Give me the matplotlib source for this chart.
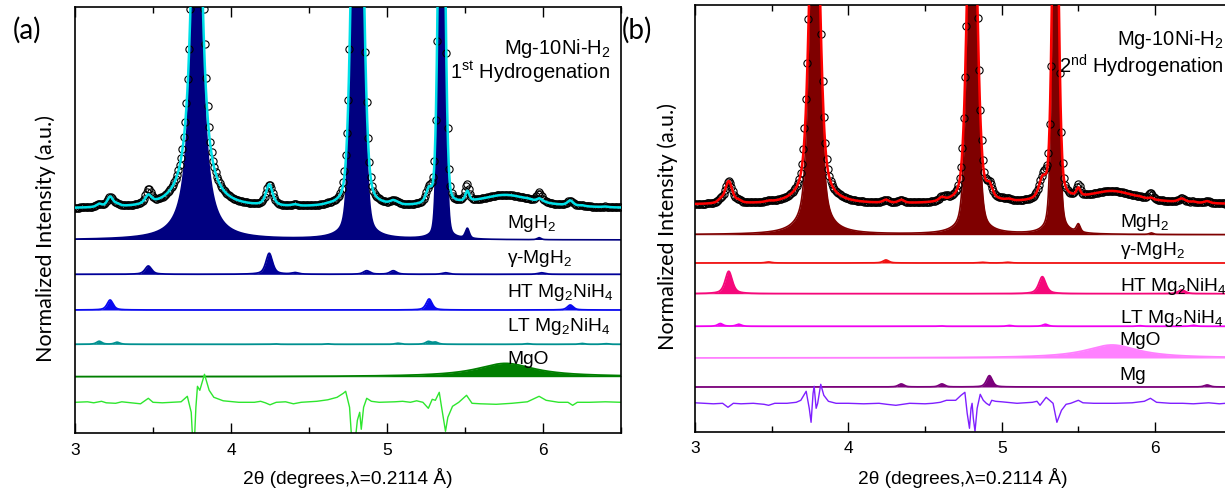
import numpy as np
import matplotlib.pyplot as plt
from matplotlib.ticker import MultipleLocator

plt.rcParams['font.family'] = ['Liberation Sans', 'DejaVu Sans']
plt.rcParams['mathtext.fontset'] = 'custom'
plt.rcParams['mathtext.rm'] = 'Liberation Sans'
plt.rcParams['mathtext.it'] = 'Liberation Sans:italic'

# ---- panel (a): 1st hydrogenation, peaks (2theta, height, fwhm, eta) ----
a_mgh2_pos = [3.78, 4.81, 5.35, 5.515, 5.975]
a_mgh2_h = [469, 568, 493, 10, 2]
a_mgh2_w = [0.069, 0.072, 0.045, 0.03, 0.03]
a_mgh2_eta = [1.0, 0.22, 0.15, 0.5, 0.5]

a_gam_pos = [3.47, 4.245, 4.41, 4.87, 5.04, 5.375, 5.99]
a_gam_h = [8.3, 21, 1.5, 3.5, 3.5, 1.5, 1.5]

a_ht_pos = [3.225, 5.27, 6.175]
a_ht_h = [10, 11, 5]

a_lt_pos = [3.155, 3.27, 4.28, 4.62, 5.07, 5.265, 5.31, 5.9, 6.25, 6.4]
a_lt_h = [3, 2, 0.4, 0.4, 1, 2.7, 2, 0.6, 0.8, 0.6]

a_mgo_pos = [5.76]
a_mgo_h = [13.3]

# where the observed pattern sits above the fit
a_extra_pos = [3.47, 3.72, 3.83, 4.735, 4.87, 5.29, 5.335, 5.51, 5.975]
a_extra_h = [6, 5, 25, 9, 4, 3, 9, 7, 6]

a_diff_x = [3.00, 3.08, 3.12, 3.17, 3.20, 3.26, 3.30, 3.36, 3.42, 3.47, 3.50, 3.56, 3.62,
            3.68, 3.72, 3.745, 3.755, 3.765, 3.775, 3.785, 3.80, 3.83, 3.86, 3.89, 3.95,
            4.05, 4.15, 4.19, 4.22, 4.25, 4.29, 4.35, 4.40, 4.45, 4.55, 4.62, 4.68, 4.72,
            4.735, 4.76, 4.775, 4.795, 4.81, 4.825, 4.835, 4.85, 4.87, 4.90, 4.95, 5.05,
            5.10, 5.15, 5.19, 5.23, 5.265, 5.29, 5.31, 5.335, 5.35, 5.375, 5.39, 5.42,
            5.46, 5.51, 5.545, 5.60, 5.70, 5.80, 5.90, 5.975, 6.02, 6.10, 6.16, 6.19,
            6.22, 6.30, 6.40, 6.50]
a_diff_y = [0, 0.5, -0.5, 1, -0.5, -1, 0.5, -0.5, -1.5, 4, 0, -0.5, 0,
            0.5, 6, -10, -40, -40, -5, 16, 12, 28, 12, 5, 1.5,
            0, 0, 1, -0.5, -2.5, 0, 0.5, -1.5, 0, 1, 2.5, 5, 9,
            11, -5, -40, -40, -18, -10, -27, -5, 4, 1, 0, 0.5,
            1, 0, 1.5, 0, -6, 3, 2, 10, -5, -29, -15, -4,
            0, 7, -1, -1.5, -2, -1, 0.5, 6, 2, 0, 0, -3,
            0, 0, 0.5, 0]

# ---- panel (b): 2nd hydrogenation ----
b_mgh2_pos = [3.78, 4.807, 5.35, 5.50, 5.975]
b_mgh2_h = [410, 410, 405, 8, 1.5]
b_mgh2_w = [0.072, 0.068, 0.045, 0.03, 0.03]
b_mgh2_eta = [0.5, 0.3, 0.3, 0.5, 0.5]

b_gam_pos = [3.48, 4.245, 4.87, 5.04]
b_gam_h = [1, 3, 0.7, 0.7]

b_ht_pos = [3.22, 5.265, 6.175]
b_ht_h = [22.4, 17, 3.7]

b_lt_pos = [3.165, 3.285, 4.6, 5.05, 5.285, 5.9, 6.25]
b_lt_h = [2.7, 2, 0.4, 0.8, 2, 0.6, 1]

b_mgo_pos = [5.72]
b_mgo_h = [13]

b_mg_pos = [4.345, 4.61, 4.92, 6.34]
b_mg_h = [3, 3, 11.3, 2]

b_extra_pos = [3.725, 3.777, 3.82, 4.64, 4.76, 4.86, 5.0, 5.29, 5.50, 5.97]
b_extra_h = [12, 15, 18, 2.5, 10, 9, 1.5, 6, 3, 5]

b_diff_x = [3.00, 3.06, 3.12, 3.18, 3.215, 3.25, 3.30, 3.38, 3.45, 3.48, 3.52, 3.60, 3.66,
            3.69, 3.725, 3.745, 3.757, 3.77, 3.777, 3.79, 3.80, 3.82, 3.84, 3.87, 3.92,
            4.00, 4.10, 4.20, 4.25, 4.31, 4.40, 4.50, 4.55, 4.60, 4.64, 4.70, 4.735, 4.76,
            4.775, 4.79, 4.80, 4.807, 4.815, 4.826, 4.84, 4.86, 4.88, 4.90, 4.92, 4.935,
            4.96, 5.00, 5.10, 5.20, 5.23, 5.25, 5.29, 5.32, 5.335, 5.36, 5.39, 5.42, 5.45,
            5.50, 5.53, 5.60, 5.74, 5.85, 5.93, 5.97, 6.01, 6.10, 6.18, 6.25, 6.35, 6.42, 6.50]
b_diff_y = [0.5, 0, -0.5, 0, -4, 0, -0.5, 0, -1, -2, 0, 0, 1,
            3, 12, -5, -19, 10, 17, -5, 0, 19, 8, 2, 0,
            0, -0.5, 0, -1, -2, 0, -0.5, 0, 1, 3, 3, 8, 11,
            -10, -25, -5, 0, -15, -28, -5, 9, 3, 0, -2, 3,
            2, 1.5, 0, 1, 2, -2, 6, 2, 0, -19, -7, -1, 0,
            3, 0.5, 0, 0, 0.5, 2, 5, 1, 0, 0, -0.5, 0.5, -0.5, 0.5]

label_x = 5.77


def pv(x, pos, h, w, eta):
    y = np.zeros_like(x)
    w = np.broadcast_to(w, len(pos))
    eta = np.broadcast_to(eta, len(pos))
    for p, a, f, e in zip(pos, h, w, eta):
        d = (x - p) / (f / 2)
        y += a * (e / (1 + d ** 2) + (1 - e) * np.exp(-np.log(2) * d ** 2))
    return y


x = np.linspace(3.0, 6.5, 3501)
x_obs = np.arange(3.0, 6.5, 0.0085)

fig = plt.figure(figsize=(12.25, 4.9), dpi=100)


def setup(ax, top):
    ax.set_xlim(3, 6.5)
    ax.set_ylim(0, top)
    ax.xaxis.set_major_locator(MultipleLocator(1))
    ax.xaxis.set_minor_locator(MultipleLocator(0.5))
    ax.tick_params(axis='x', which='both', direction='in', top=True, labelsize=12.5, pad=7)
    ax.tick_params(axis='x', which='major', length=7, width=1)
    ax.tick_params(axis='x', which='minor', length=4, width=1)
    ax.set_yticks([])
    for s in ax.spines.values():
        s.set_linewidth(1.2)


def draw(ax, base, mgh2, phases, extra, dcol, calc_col, diff_x, diff_y, diff_off):
    calc = base + mgh2[0](x)
    calc_obs = base + mgh2[0](x_obs)
    off, col = mgh2[1], mgh2[2]
    ax.fill_between(x, off, off + mgh2[0](x), color=col, lw=0, zorder=2)
    ax.plot(x, off + mgh2[0](x), color=col, lw=1.2, zorder=2)
    for f, off, col in phases:
        prof = f(x)
        ax.fill_between(x, off, off + prof, color=col, lw=0, zorder=2)
        ax.plot(x, off + prof, color=col, lw=1.3, zorder=2)
        calc = calc + prof
        calc_obs = calc_obs + f(x_obs)
    obs = calc_obs + pv(x_obs, extra[0], extra[1], 0.035, 0.5)
    ax.plot(x_obs, obs, 'o', mfc='none', mec='black', ms=5.2, mew=0.8, zorder=3)
    ax.plot(x, calc, color=calc_col, lw=1.8, zorder=4)
    ax.plot(diff_x, np.array(diff_y) + diff_off, color=dcol, lw=1.0, zorder=2)


# panel (a)
ax1 = fig.add_axes([75 / 1225, 1 - 433.3 / 490, 546 / 1225, 426.3 / 490])
setup(ax1, 426.3)
draw(ax1, 224.5,
     (lambda t: pv(t, a_mgh2_pos, a_mgh2_h, a_mgh2_w, a_mgh2_eta), 193.3, '#000080'),
     [(lambda t: pv(t, a_gam_pos, a_gam_h, 0.05, 0.6), 159, '#000099'),
      (lambda t: pv(t, a_ht_pos, a_ht_h, 0.045, 0.6), 123.3, '#0A0AF0'),
      (lambda t: pv(t, a_lt_pos, a_lt_h, 0.04, 0.6), 89, '#009090'),
      (lambda t: pv(t, a_mgo_pos, a_mgo_h, 0.45, 1.0), 56.6, '#007F00')],
     (a_extra_pos, a_extra_h), '#2EE62E', '#00E0E8', a_diff_x, a_diff_y, 31)

for txt, yy in [('MgH$_2$', 205.3), ('γ-MgH$_2$', 170), ('HT Mg$_2$NiH$_4$', 136.6),
                ('LT Mg$_2$NiH$_4$', 102.3), ('MgO', 69)]:
    ax1.text(label_x, yy, txt, fontsize=13.8, va='baseline', ha='left', zorder=5)
ax1.text(6.432, 379, 'Mg-10Ni-H$_2$', fontsize=14.5, va='baseline', ha='right')
ax1.text(6.432, 354, '1$^{\\mathrm{st}}$ Hydrogenation', fontsize=14.5, va='baseline', ha='right')

# panel (b)
ax2 = fig.add_axes([695 / 1225, 1 - 431.7 / 490, 536.7 / 1225, 426.7 / 490])
setup(ax2, 426.7)
draw(ax2, 227,
     (lambda t: pv(t, b_mgh2_pos, b_mgh2_h, b_mgh2_w, b_mgh2_eta), 197, '#7F0000'),
     [(lambda t: pv(t, b_gam_pos, b_gam_h, 0.045, 0.6), 168.7, '#F01010'),
      (lambda t: pv(t, b_ht_pos, b_ht_h, 0.055, 0.6), 138, '#F5087A'),
      (lambda t: pv(t, b_lt_pos, b_lt_h, 0.04, 0.6), 105.4, '#F000F0'),
      (lambda t: pv(t, b_mgo_pos, b_mgo_h, 0.42, 1.0), 73.7, '#FF80FF'),
      (lambda t: pv(t, b_mg_pos, b_mg_h, 0.045, 0.5), 44.7, '#7A007A')],
     (b_extra_pos, b_extra_h), '#7F1FFF', '#FF0000', b_diff_x, b_diff_y, 28.4)

for txt, yy in [('MgH$_2$', 205), ('γ-MgH$_2$', 176.7), ('HT Mg$_2$NiH$_4$', 141),
                ('LT Mg$_2$NiH$_4$', 109), ('MgO', 86.7), ('Mg', 51.7)]:
    ax2.text(label_x, yy, txt, fontsize=13.8, va='baseline', ha='left', zorder=5)
ax2.text(6.45, 387, 'Mg-10Ni-H$_2$', fontsize=14.5, va='baseline', ha='right')
ax2.text(6.45, 358, '2$^{\\mathrm{nd}}$ Hydrogenation', fontsize=14.5, va='baseline', ha='right')

# axis titles and panel letters
xlab = '2θ (degrees,λ=0.2114 Å)'
fig.text(348 / 1225, 1 - 478 / 490, xlab, fontsize=13.8, ha='center', va='center')
fig.text(963 / 1225, 1 - 478 / 490, xlab, fontsize=13.8, ha='center', va='center')
fig.text(46 / 1225, 1 - 238 / 490, 'Normalized Intensity (a.u.)', fontsize=15.5,
         family=['Lato', 'DejaVu Sans'], rotation=90, ha='center', va='center')
fig.text(668 / 1225, 1 - 226 / 490, 'Normalized Intensity (a.u.)', fontsize=15.5,
         family=['Lato', 'DejaVu Sans'], rotation=90, ha='center', va='center')
fig.text(27 / 1225, 1 - 30 / 490, '(a)', fontsize=20, family=['Lato', 'DejaVu Sans'],
         ha='center', va='center')
fig.text(637 / 1225, 1 - 30 / 490, '(b)', fontsize=20, family=['Lato', 'DejaVu Sans'],
         ha='center', va='center')

fig.savefig('out.png', dpi=100)
